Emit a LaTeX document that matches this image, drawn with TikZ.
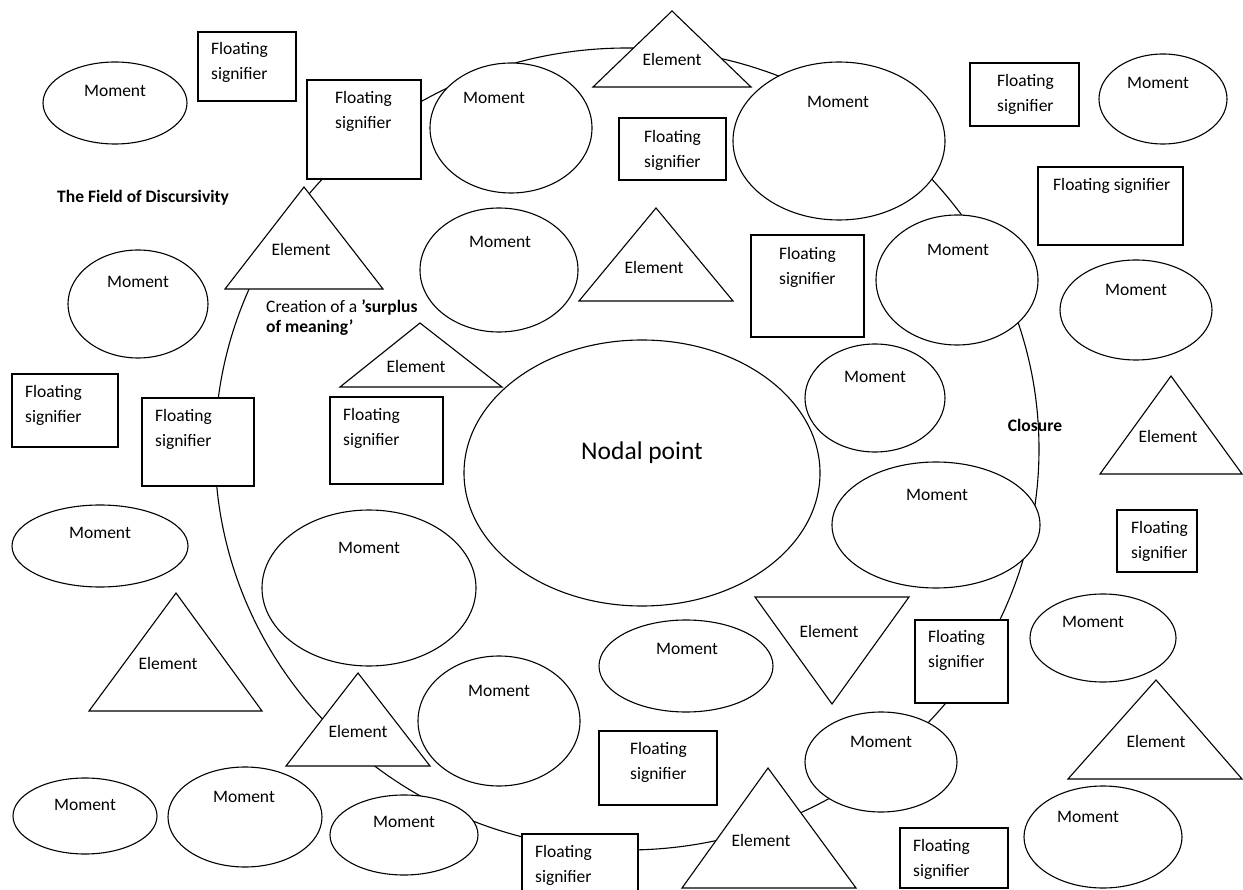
\documentclass[tikz,border=0pt]{standalone}
\usepackage{fontspec}
\setmainfont{Carlito}

\begin{document}
\begin{tikzpicture}[x=1pt, y=-1pt,
		shp/.style={draw=black, fill=white, line width=1.1pt},
		lbl/.style={inner sep=0pt, font=\fontsize{17.5}{25}\selectfont},
		fsl/.style={lbl, align=left, anchor=west}]
		\useasboundingbox (0,0) rectangle (1243,890);
		\clip (0,0) rectangle (1243,890);
		% closure line behind everything
		\draw[line width=1.1pt] (627,449) ellipse [x radius=412, y radius=401];
		% moments
		\draw[shp] (115,103) ellipse [x radius=72, y radius=41];
		\node[lbl] (mom1) at (115,91) {Moment};
		\draw[shp] (511,128) ellipse [x radius=81, y radius=65];
		\node[lbl] (mom2) at (494,98) {Moment};
		\draw[shp] (839,141) ellipse [x radius=106, y radius=79];
		\node[lbl] (mom3) at (838,102) {Moment};
		\draw[shp] (1163,99) ellipse [x radius=64, y radius=45];
		\node[lbl] (mom4) at (1158,83) {Moment};
		\draw[shp] (138,304) ellipse [x radius=70, y radius=54];
		\node[lbl] (mom5) at (138,282) {Moment};
		\draw[shp] (499,270) ellipse [x radius=79, y radius=62];
		\node[lbl] (mom6) at (500,242) {Moment};
		\draw[shp] (957,280) ellipse [x radius=81, y radius=65];
		\node[lbl] (mom7) at (958,250) {Moment};
		\draw[shp] (1136,310) ellipse [x radius=76, y radius=50];
		\node[lbl] (mom8) at (1136,290) {Moment};
		\draw[shp] (875,398) ellipse [x radius=70, y radius=54];
		\node[lbl] (mom9) at (875,377) {Moment};
		\draw[shp] (936,525) ellipse [x radius=104, y radius=63];
		\node[lbl] (mom10) at (937,495) {Moment};
		\draw[shp] (100,546) ellipse [x radius=88, y radius=41];
		\node[lbl] (mom11) at (100,533) {Moment};
		\draw[shp] (369,588) ellipse [x radius=107, y radius=78];
		\node[lbl] (mom12) at (369,548) {Moment};
		\draw[shp] (686,666) ellipse [x radius=87, y radius=46];
		\node[lbl] (mom13) at (687,649) {Moment};
		\draw[shp] (499,721) ellipse [x radius=81, y radius=65];
		\node[lbl] (mom14) at (499,691) {Moment};
		\draw[shp] (1103,638) ellipse [x radius=73, y radius=44];
		\node[lbl] (mom15) at (1093,622) {Moment};
		\draw[shp] (881,762) ellipse [x radius=76, y radius=50];
		\node[lbl] (mom16) at (881,742) {Moment};
		\draw[shp] (1103,837) ellipse [x radius=79, y radius=51];
		\node[lbl] (mom17) at (1088,817) {Moment};
		\draw[shp] (85,816) ellipse [x radius=72, y radius=38];
		\node[lbl] (mom18) at (85,805) {Moment};
		\draw[shp] (245,817) ellipse [x radius=77, y radius=50];
		\node[lbl] (mom19) at (244,797) {Moment};
		\draw[shp] (404,835) ellipse [x radius=74, y radius=40];
		\node[lbl] (mom20) at (404,822) {Moment};
		% nodal point
		\draw[shp] (642,473) ellipse [x radius=178, y radius=133];
		\node[lbl, font=\fontsize{25.5}{30}\selectfont, anchor=base] (nodal) at (642,460) {Nodal point};
		% floating signifiers
		\draw[shp] (198,32) rectangle (296,101);
		\node[fsl] (fs1) at (211,62.5) {Floating\\signifier};
		\draw[shp] (307,80) rectangle (421,179);
		\node[fsl] (fs2) at (335,111.5) {Floating\\signifier};
		\draw[shp] (619,118) rectangle (726,180);
		\node[fsl] (fs3) at (644,150.5) {Floating\\signifier};
		\draw[shp] (970,63) rectangle (1079,126);
		\node[fsl] (fs4) at (997,94.5) {Floating\\signifier};
		\draw[shp] (1038,167) rectangle (1183,245);
		\node[fsl] (fs5) at (1053,186) {Floating signifier};
		\draw[shp] (751,235) rectangle (864,337);
		\node[fsl] (fs6) at (779,267) {Floating\\signifier};
		\draw[shp] (12,374) rectangle (118,447);
		\node[fsl] (fs7) at (25,405.5) {Floating\\signifier};
		\draw[shp] (142,398) rectangle (254,486);
		\node[fsl] (fs8) at (155,429.5) {Floating\\signifier};
		\draw[shp] (330,397) rectangle (443,484);
		\node[fsl] (fs9) at (343,428.5) {Floating\\signifier};
		\draw[shp] (1117,510) rectangle (1197,572);
		\node[fsl] (fs10) at (1131,541.5) {Floating\\signifier};
		\draw[shp] (915,620) rectangle (1008,703);
		\node[fsl] (fs11) at (928,650.5) {Floating\\signifier};
		\draw[shp] (599,731) rectangle (717,805);
		\node[fsl] (fs12) at (630,762.5) {Floating\\signifier};
		\draw[shp] (522,834) rectangle (638,900);
		\node[fsl] (fs13) at (535,865.5) {Floating\\signifier};
		\draw[shp] (900,828) rectangle (1008,888);
		\node[fsl] (fs14) at (913,859.5) {Floating\\signifier};
		% elements
		\draw[shp] (672,11) -- (751,87) -- (593,87) -- cycle;
		\node[lbl] (el1) at (672,59) {Element};
		\draw[shp] (304,187) -- (383,289) -- (225,289) -- cycle;
		\node[lbl] (el2) at (301,249) {Element};
		\draw[shp] (656,208) -- (733,301) -- (579,301) -- cycle;
		\node[lbl] (el3) at (654,267) {Element};
		\draw[shp] (420,323) -- (502,387) -- (340,387) -- cycle;
		\node[lbl] (el4) at (416,366) {Element};
		\draw[shp] (1171,376) -- (1242,474) -- (1100,474) -- cycle;
		\node[lbl] (el5) at (1168,436) {Element};
		\draw[shp] (755,597) -- (909,597) -- (832,704) -- cycle;
		\node[lbl] (el6) at (829,631) {Element};
		\draw[shp] (176,593) -- (262,711) -- (89,711) -- cycle;
		\node[lbl] (el7) at (168,663) {Element};
		\draw[shp] (358,673) -- (430,766) -- (286,766) -- cycle;
		\node[lbl] (el8) at (358,731) {Element};
		\draw[shp] (768,768) -- (856,888) -- (682,888) -- cycle;
		\node[lbl] (el9) at (761,840) {Element};
		\draw[shp] (1156,680) -- (1242,779) -- (1068,779) -- cycle;
		\node[lbl] (el10) at (1156,741) {Element};
		% free labels
		\node[lbl, font=\fontsize{17.5}{25}\selectfont\bfseries, anchor=base west] (field) at (57,203) {The Field of Discursivity};
		\node[fsl, font=\fontsize{17.5}{20}\selectfont] (surplus) at (266,318) {Creation of a \textbf{’surplus}\\\textbf{of meaning’}};
		\node[lbl, font=\fontsize{17.5}{25}\selectfont\bfseries] (closure) at (1035,425) {Closure};
	\end{tikzpicture}
\end{document}
